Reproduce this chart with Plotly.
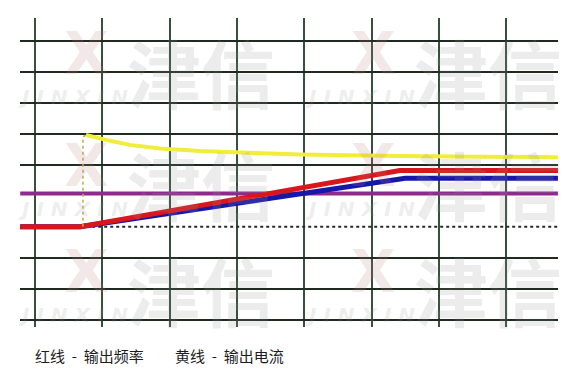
import plotly.graph_objects as go

# ---------------- data (time and amplitude in grid divisions) ----------------
red_t = [-0.22, 0.67, 5.42, 7.77]
red_v = [3.0, 3.0, 4.81, 4.81]            # 红线 输出频率

blue_t = [-0.22, 0.67, 5.50, 7.77]
blue_v = [3.0, 3.0, 4.56, 4.56]

yellow_t = [0.758, 0.892, 1.114, 1.412, 1.857, 2.452, 3.195, 3.938, 5.423, 6.612, 7.771]
yellow_v = [5.96, 5.88, 5.77, 5.64, 5.52, 5.44, 5.38, 5.33, 5.28, 5.26, 5.24]  # 黄线 输出电流

yellow_rise_t = [0.713, 0.713, 0.758]
yellow_rise_v = [3.0, 5.90, 5.96]

purple_t = [-0.22, 7.77]
purple_v = [4.07, 4.07]

ref_t = [-0.22, 7.77]
ref_v = [3.0, 3.0]

grid_x = [0, 1, 2, 3, 4, 5, 6, 7]
grid_y = [0, 1, 2, 5, 6, 7, 8, 9]

legend_labels = ["红线  -  输出频率", "黄线  -  输出电流"]

# ---------------- figure ----------------
W, H = 584, 370
ML, MR, MT, MB = 20, 26, 18, 43

fig = go.Figure()
fig.add_trace(go.Scatter(x=ref_t, y=ref_v, mode="lines",
                         line=dict(color="#2a2a2a", width=2, dash="dot"), hoverinfo="skip"))
fig.add_trace(go.Scatter(x=purple_t, y=purple_v, mode="lines",
                         line=dict(color="#8e2a8e", width=4), hoverinfo="skip"))
fig.add_trace(go.Scatter(x=blue_t, y=blue_v, mode="lines",
                         line=dict(color="#1616a8", width=5), hoverinfo="skip"))
fig.add_trace(go.Scatter(x=red_t, y=red_v, mode="lines",
                         line=dict(color="#d8161b", width=5), hoverinfo="skip"))
fig.add_trace(go.Scatter(x=yellow_rise_t, y=yellow_rise_v, mode="lines",
                         line=dict(color="#b8b048", width=1.5, dash="dot"), hoverinfo="skip"))
fig.add_trace(go.Scatter(x=yellow_t, y=yellow_v, mode="lines",
                         line=dict(color="#f0ee3a", width=4), hoverinfo="skip"))


def px_to_paper(px, py):
    return (px - ML) / (W - ML - MR), (H - MB - py) / (H - MT - MB)


annotations = []
wm_gray = "rgba(150,150,150,0.18)"
wm_x = "rgba(190,130,130,0.18)"
for col_dx in (0, 287):
    for row_dy in (0, 112, 218):
        # X mark
        x, y = px_to_paper(86 + col_dx, 54 + row_dy)
        annotations.append(dict(x=x, y=y, xref="paper", yref="paper", text="<b>X</b>",
                                showarrow=False, xanchor="center", yanchor="middle",
                                font=dict(family="DejaVu Sans", size=58, color=wm_x)))
        # 津信
        x, y = px_to_paper(201 + col_dx, 70 + row_dy)
        annotations.append(dict(x=x, y=y, xref="paper", yref="paper", text="<b>津信</b>",
                                showarrow=False, xanchor="center", yanchor="middle",
                                font=dict(family="Noto Sans CJK SC", size=74, color=wm_gray)))
        # JINXIN
        x, y = px_to_paper(73 + col_dx, 97 + row_dy)
        annotations.append(dict(x=x, y=y, xref="paper", yref="paper", text="<b><i>J I N X I N</i></b>",
                                showarrow=False, xanchor="center", yanchor="middle",
                                font=dict(family="DejaVu Sans", size=20, color=wm_gray)))

for lx, lab in zip((33, 173), legend_labels):
    x, y = px_to_paper(lx, 355)
    annotations.append(dict(x=x, y=y, xref="paper", yref="paper", text=lab,
                            showarrow=False, xanchor="left", yanchor="middle",
                            font=dict(family="Noto Sans CJK SC", size=15, color="#1c1c1c")))

fig.update_layout(
    width=W, height=H,
    margin=dict(l=ML, r=MR, t=MT, b=MB, pad=0),
    paper_bgcolor="white", plot_bgcolor="white",
    showlegend=False,
    annotations=annotations,
    xaxis=dict(range=[-0.2229, 7.771], tickvals=grid_x, showticklabels=False, ticks="",
               showgrid=True, gridcolor="#35503c", gridwidth=2, zeroline=False, showline=False,
               fixedrange=True),
    yaxis=dict(range=[-0.235, 9.732], tickvals=grid_y, showticklabels=False, ticks="",
               showgrid=True, gridcolor="#1f2a20", gridwidth=2, zeroline=False, showline=False,
               fixedrange=True),
)

fig.write_html("out.html", config={"displayModeBar": False},
               post_script="document.body.style.margin='0';document.body.style.overflow='hidden';")
